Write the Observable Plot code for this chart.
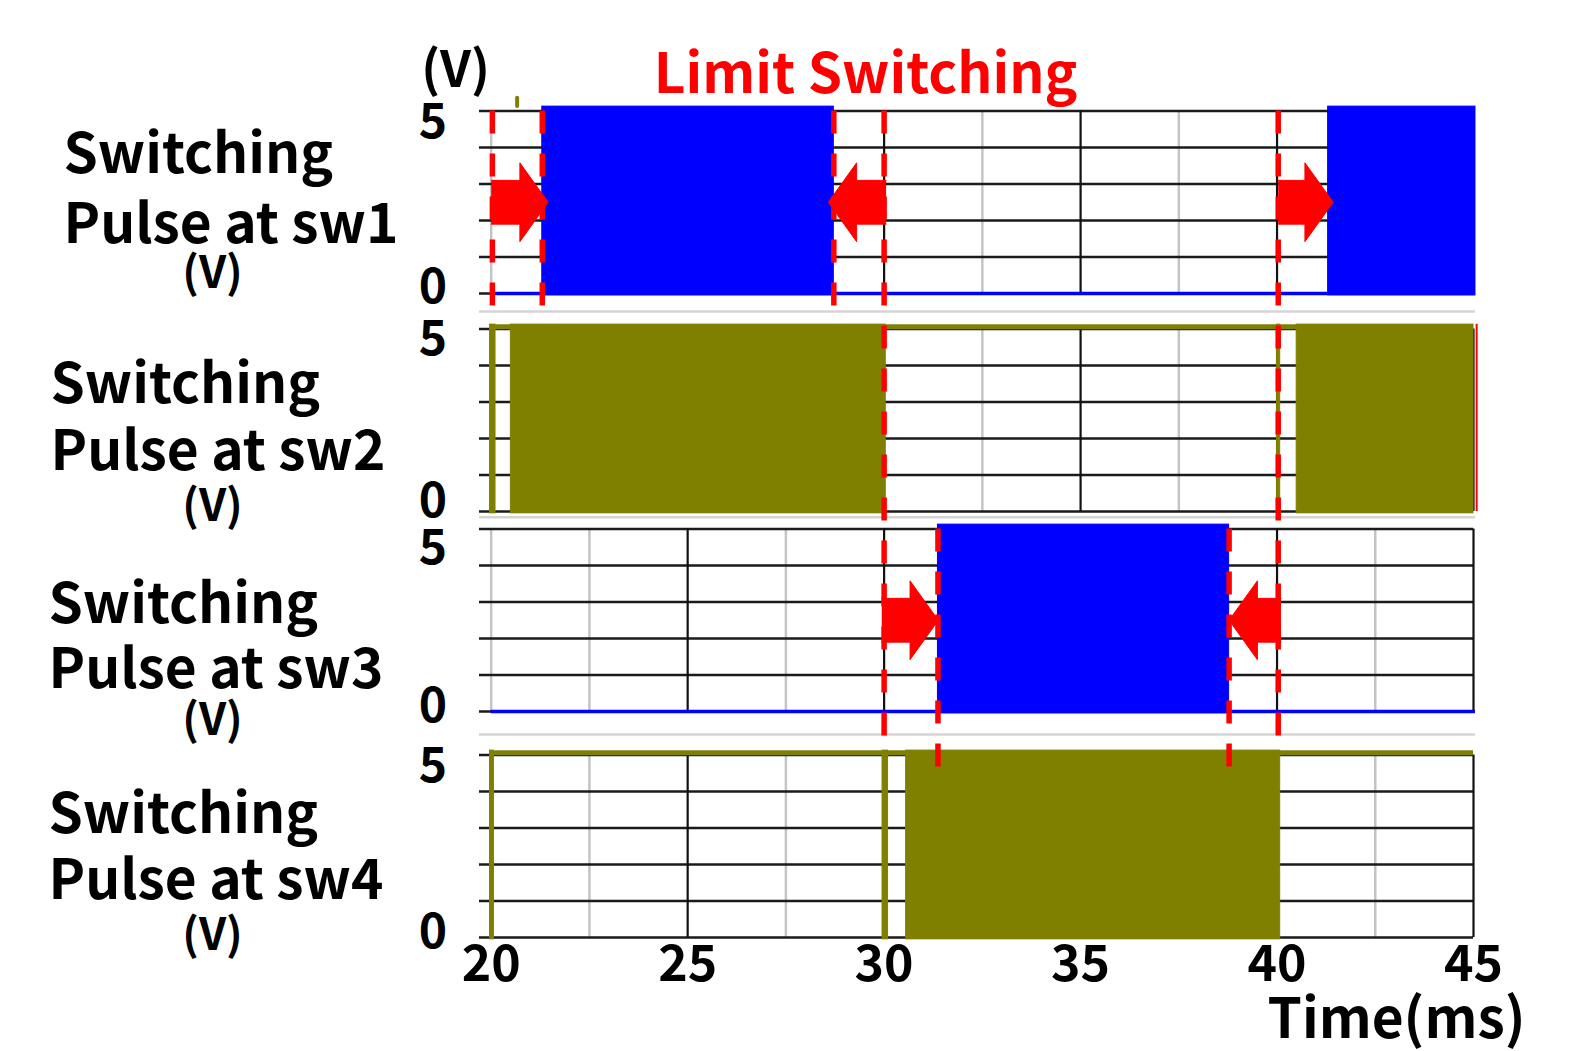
<!DOCTYPE html>
<html>
<head>
<meta charset="utf-8">
<script src="https://cdn.jsdelivr.net/npm/d3@7"></script>
<script src="https://cdn.jsdelivr.net/npm/@observablehq/plot@0.6"></script>
<style>
  html, body { margin: 0; padding: 0; background: #fff; }
  #chart { width: 1571px; height: 1051px; }
</style>
</head>
<body>
<div id="chart"></div>
<script>
// ================= DATA =================
const switches = ["sw1", "sw2", "sw3", "sw4"];
// voltage level held between PWM bursts (V)
const idleLevel = [0, 5, 0, 5];
// PWM bursts (dense switching between 0 and 5 V), start / end in ms
const burstStart = [
  [21.3, 41.3],
  [19.97, 20.5, 40.0, 40.5],
  [31.37],
  [19.97, 29.96, 30.56]
];
const burstEnd = [
  [28.72, 45.05],
  [20.11, 30.04, 40.08, 45.0],
  [38.78],
  [20.07, 30.1, 40.08]
];
// small glitch of the sw2 trace drawn above panel 1 (ms)
const glitchTime = [20.66];
// limit-switching instants (ms) and the panels each dashed line spans
const limitTime = [20.03, 21.3, 28.72, 30.0, 40.03, 31.37, 38.78];
const limitFrom = ["sw1", "sw1", "sw1", "sw1", "sw1", "sw3", "sw3"];
const limitTo   = ["sw1", "sw1", "sw1", "sw4", "sw4", "sw4", "sw4"];
// block arrows: panel, tail time, tip time (ms)
const arrowSwitch = ["sw1", "sw1", "sw1", "sw3", "sw3"];
const arrowFrom   = [20.0, 30.05, 40.03, 29.94, 40.1];
const arrowTo     = [21.45, 28.58, 41.43, 31.38, 38.78];
// axes
const xTicks = [20, 25, 30, 35, 40, 45];
const yTickLabels = [0, 5];
const timeDomain = [20, 45];

// ================= LAYOUT / STYLE =================
const W = 1571, H = 1051;
const X0PX = 490.7, X1PX = 1473;       // pixel of 20 ms and 45 ms
const PXV = 36.5;                       // pixels per volt
const zeroPx = [293, 511, 711, 937];    // pixel row of 0 V in each panel
const base = zeroPx.map(p => (zeroPx[3] - p) / PXV);
const baseOf = s => base[switches.indexOf(s)];
const yAt = px => (zeroPx[3] - px) / PXV;
const xAt = px => timeDomain[0] + (px - X0PX) * (timeDomain[1] - timeDomain[0]) / (X1PX - X0PX);
const yTop = base[0] + 5;

const BLUE = "#0000ff", OLIVE = "#808000", RED = "#ff0000";
const traceColor = [BLUE, OLIVE, BLUE, OLIVE];
const FONT = "'Noto Sans CJK JP', 'Noto Sans', sans-serif";

const sepOffset = [-0.49, -0.16, -0.63];           // light separator under panels 1-3
const limitEndOffset = [-0.75, -0.75, -0.75, 5.1, 5.1, 4.65, 4.65];
const labelLeftPx = [63, 50, 48, 48];
const labelLinePx = [[155, 225, 273], [385, 452, 506], [605, 670, 720], [815, 881, 935]];
const labelVCenterPx = 212;
const tick5Dy = [12, 11, 20, 12];
const tick0Dy = [-6, -10, -5, -5];

// ================= DERIVED TABLES =================
const hGrid = [];
const vGrid = [];
switches.forEach((s, i) => {
  for (let v = 0; v <= 5; v++) hGrid.push({y: base[i] + v});
  for (let k = 0; k <= 10; k++) {
    const t = 20 + 2.5 * k;
    vGrid.push({x: t, y1: base[i], y2: base[i] + 5, major: t > 20 && k % 2 === 0});
  }
});
const seps = sepOffset.map((o, i) => ({y: base[i] + o}));

const levels = switches.map((s, i) => ({y: base[i] + (idleLevel[i] === 5 ? 5.06 : 0), high: idleLevel[i] === 5}));

const bursts = [];
switches.forEach((s, i) => {
  burstStart[i].forEach((t0, j) => {
    bursts.push({x1: t0, x2: burstEnd[i][j], y1: base[i] - 0.05, y2: base[i] + 5.12, color: traceColor[i]});
  });
});

const limits = limitTime.map((t, i) => ({
  x: t,
  y1: baseOf(limitFrom[i]) + 5,
  y2: baseOf(limitTo[i]) + limitEndOffset[i]
}));

const HEAD = 0.72, SHAFT = 0.6, HEADH = 1.08;
const arrowPts = [];
arrowSwitch.forEach((s, i) => {
  const c = baseOf(s) + 2.5, x0 = arrowFrom[i], x1 = arrowTo[i];
  const dir = Math.sign(x1 - x0), xb = x1 - dir * HEAD;
  [[x0, c + SHAFT], [xb, c + SHAFT], [xb, c + HEADH], [x1, c], [xb, c - HEADH], [xb, c - SHAFT], [x0, c - SHAFT]]
    .forEach(([x, y]) => arrowPts.push({id: i, x, y}));
});

const labels = [];
switches.forEach((s, i) => {
  const L = labelLinePx[i];
  labels.push({text: "Switching", x: xAt(labelLeftPx[i]), y: yAt(L[0]), big: true});
  labels.push({text: "Pulse at " + s, x: xAt(labelLeftPx[i]), y: yAt(L[1]), big: true});
  labels.push({text: "(V)", x: xAt(labelVCenterPx), y: yAt(L[2]), big: false});
});

const tickAxes = [];
base.forEach((b, i) => {
  tickAxes.push(Plot.axisY([b + yTickLabels[1]], {tickFormat: () => String(yTickLabels[1]), tickSize: 0, tickPadding: 44, fontSize: 48, fontWeight: "bold", dy: tick5Dy[i], label: null, fill: "#000"}));
  tickAxes.push(Plot.axisY([b + yTickLabels[0]], {tickFormat: () => String(yTickLabels[0]), tickSize: 0, tickPadding: 44, fontSize: 48, fontWeight: "bold", dy: tick0Dy[i], label: null, fill: "#000"}));
});

const chart = Plot.plot({
  width: W,
  height: H,
  marginLeft: X0PX,
  marginRight: W - X1PX,
  marginTop: zeroPx[3] - yTop * PXV,
  marginBottom: H - zeroPx[3],
  x: {domain: timeDomain},
  y: {domain: [0, yTop]},
  style: {fontFamily: FONT, background: "#fff", overflow: "visible"},
  marks: [
    // grid
    Plot.ruleX(vGrid.filter(d => !d.major), {x: "x", y1: "y1", y2: "y2", stroke: "#c4c4c4", strokeWidth: 2.5}),
    Plot.ruleY(hGrid, {y: "y", x1: xAt(479), x2: 45, stroke: "#1a1a1a", strokeWidth: 2.4}),
    Plot.ruleX(vGrid.filter(d => d.major), {x: "x", y1: "y1", y2: "y2", stroke: "#111", strokeWidth: 2.2}),
    Plot.ruleY(seps, {y: "y", x1: xAt(479), x2: 45.05, stroke: "#d4d4d4", strokeWidth: 2.5}),
    // traces
    Plot.ruleY(levels.filter(d => !d.high), {y: "y", x1: 20, x2: 45.05, stroke: BLUE, strokeWidth: 3.5}),
    Plot.ruleY(levels.filter(d => d.high), {y: "y", x1: 20, x2: 45, stroke: OLIVE, strokeWidth: 5}),
    Plot.rect(bursts.filter(d => d.color === BLUE), {x1: "x1", x2: "x2", y1: "y1", y2: "y2", fill: BLUE, stroke: BLUE, strokeWidth: 1}),
    Plot.rect(bursts.filter(d => d.color === OLIVE), {x1: "x1", x2: "x2", y1: "y1", y2: "y2", fill: OLIVE, stroke: OLIVE, strokeWidth: 1}),
    Plot.ruleX(glitchTime, {x: d => d, y1: base[0] + 5.12, y2: base[0] + 5.35, stroke: OLIVE, strokeWidth: 4, strokeLinecap: "round"}),
    Plot.ruleX([45.08], {x: d => d, y1: base[1], y2: base[1] + 5.13, stroke: RED, strokeWidth: 2}),
    // limit switching annotations
    Plot.ruleX(limits, {x: "x", y1: "y1", y2: "y2", stroke: RED, strokeWidth: 5.5, strokeDasharray: "23,20"}),
    Plot.line(arrowPts, {x: "x", y: "y", z: "id", fill: RED, stroke: RED, strokeWidth: 1}),
    // axes
    Plot.axisX(xTicks, {tickSize: 0, tickPadding: 8, fontSize: 50, fontWeight: "bold", label: null, fill: "#000"}),
    ...tickAxes,
    // texts
    Plot.text(labels.filter(d => d.big), {x: "x", y: "y", text: "text", textAnchor: "start", fontSize: 55, fontWeight: "bold", fill: "#000"}),
    Plot.text(labels.filter(d => !d.big), {x: "x", y: "y", text: "text", textAnchor: "middle", fontSize: 44, fontWeight: "bold", fill: "#000"}),
    Plot.text([{text: "Limit Switching", x: xAt(865), y: yAt(75)}], {x: "x", y: "y", text: "text", fontSize: 55, fontWeight: "bold", fill: RED}),
    Plot.text([{text: "(V)", x: xAt(455), y: yAt(70)}], {x: "x", y: "y", text: "text", fontSize: 50, fontWeight: "bold", fill: "#000"}),
    Plot.text([{text: "Time(ms)", x: xAt(1396), y: yAt(1020)}], {x: "x", y: "y", text: "text", fontSize: 55, fontWeight: "bold", fill: "#000"})
  ]
});
document.getElementById("chart").appendChild(chart);
</script>
</body>
</html>
